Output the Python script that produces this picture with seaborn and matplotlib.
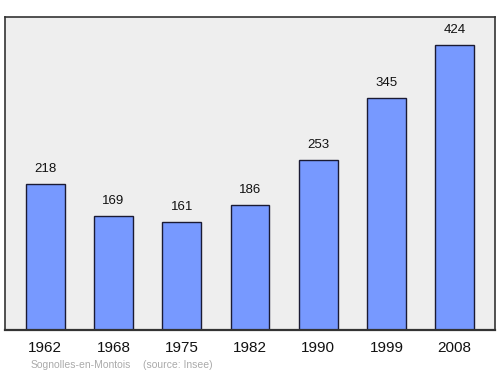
import matplotlib
matplotlib.use("Agg")
import matplotlib.pyplot as plt
import seaborn as sns
import pandas as pd

years = ["1962", "1968", "1975", "1982", "1990", "1999", "2008"]
population = [218, 169, 161, 186, 253, 345, 424]

df = pd.DataFrame({"year": years, "pop": population})

sns.set_style("white")
plt.rcParams['font.family'] = ['Liberation Sans', 'DejaVu Sans']

fig = plt.figure(figsize=(5, 3.74), dpi=100)
ax = fig.add_axes([0.01, 0.1176, 0.98, 0.837])
ax.set_facecolor("#eeeeee")
sns.barplot(data=df, x="year", y="pop", ax=ax, color="#7799ff", width=0.57,
            edgecolor="#1a1a33", linewidth=1.0, saturation=1)
ax.set_xlim(-0.59, 6.59)
ax.set_ylim(0, 466)
for i, v in enumerate(population):
    ax.annotate(str(v), (i, v), xytext=(0, 6.5), textcoords="offset points",
                ha="center", va="bottom", fontsize=9.5, color="#111111")
ax.set_xlabel("")
ax.set_ylabel("")
ax.set_yticks([])
ax.tick_params(axis="x", length=0, labelsize=11, pad=8, colors="#111111")
for s in ax.spines.values():
    s.set_color("#333333")
    s.set_linewidth(1.2)
ax.spines["bottom"].set_linewidth(1.6)
fig.text(0.062, 0.012, "Sognolles-en-Montois", fontsize=7.5,
         color="#aaaaaa", ha="left", va="bottom")
fig.text(0.286, 0.012, "(source: Insee)", fontsize=7.5,
         color="#aaaaaa", ha="left", va="bottom")
fig.savefig("out.png", dpi=100)
